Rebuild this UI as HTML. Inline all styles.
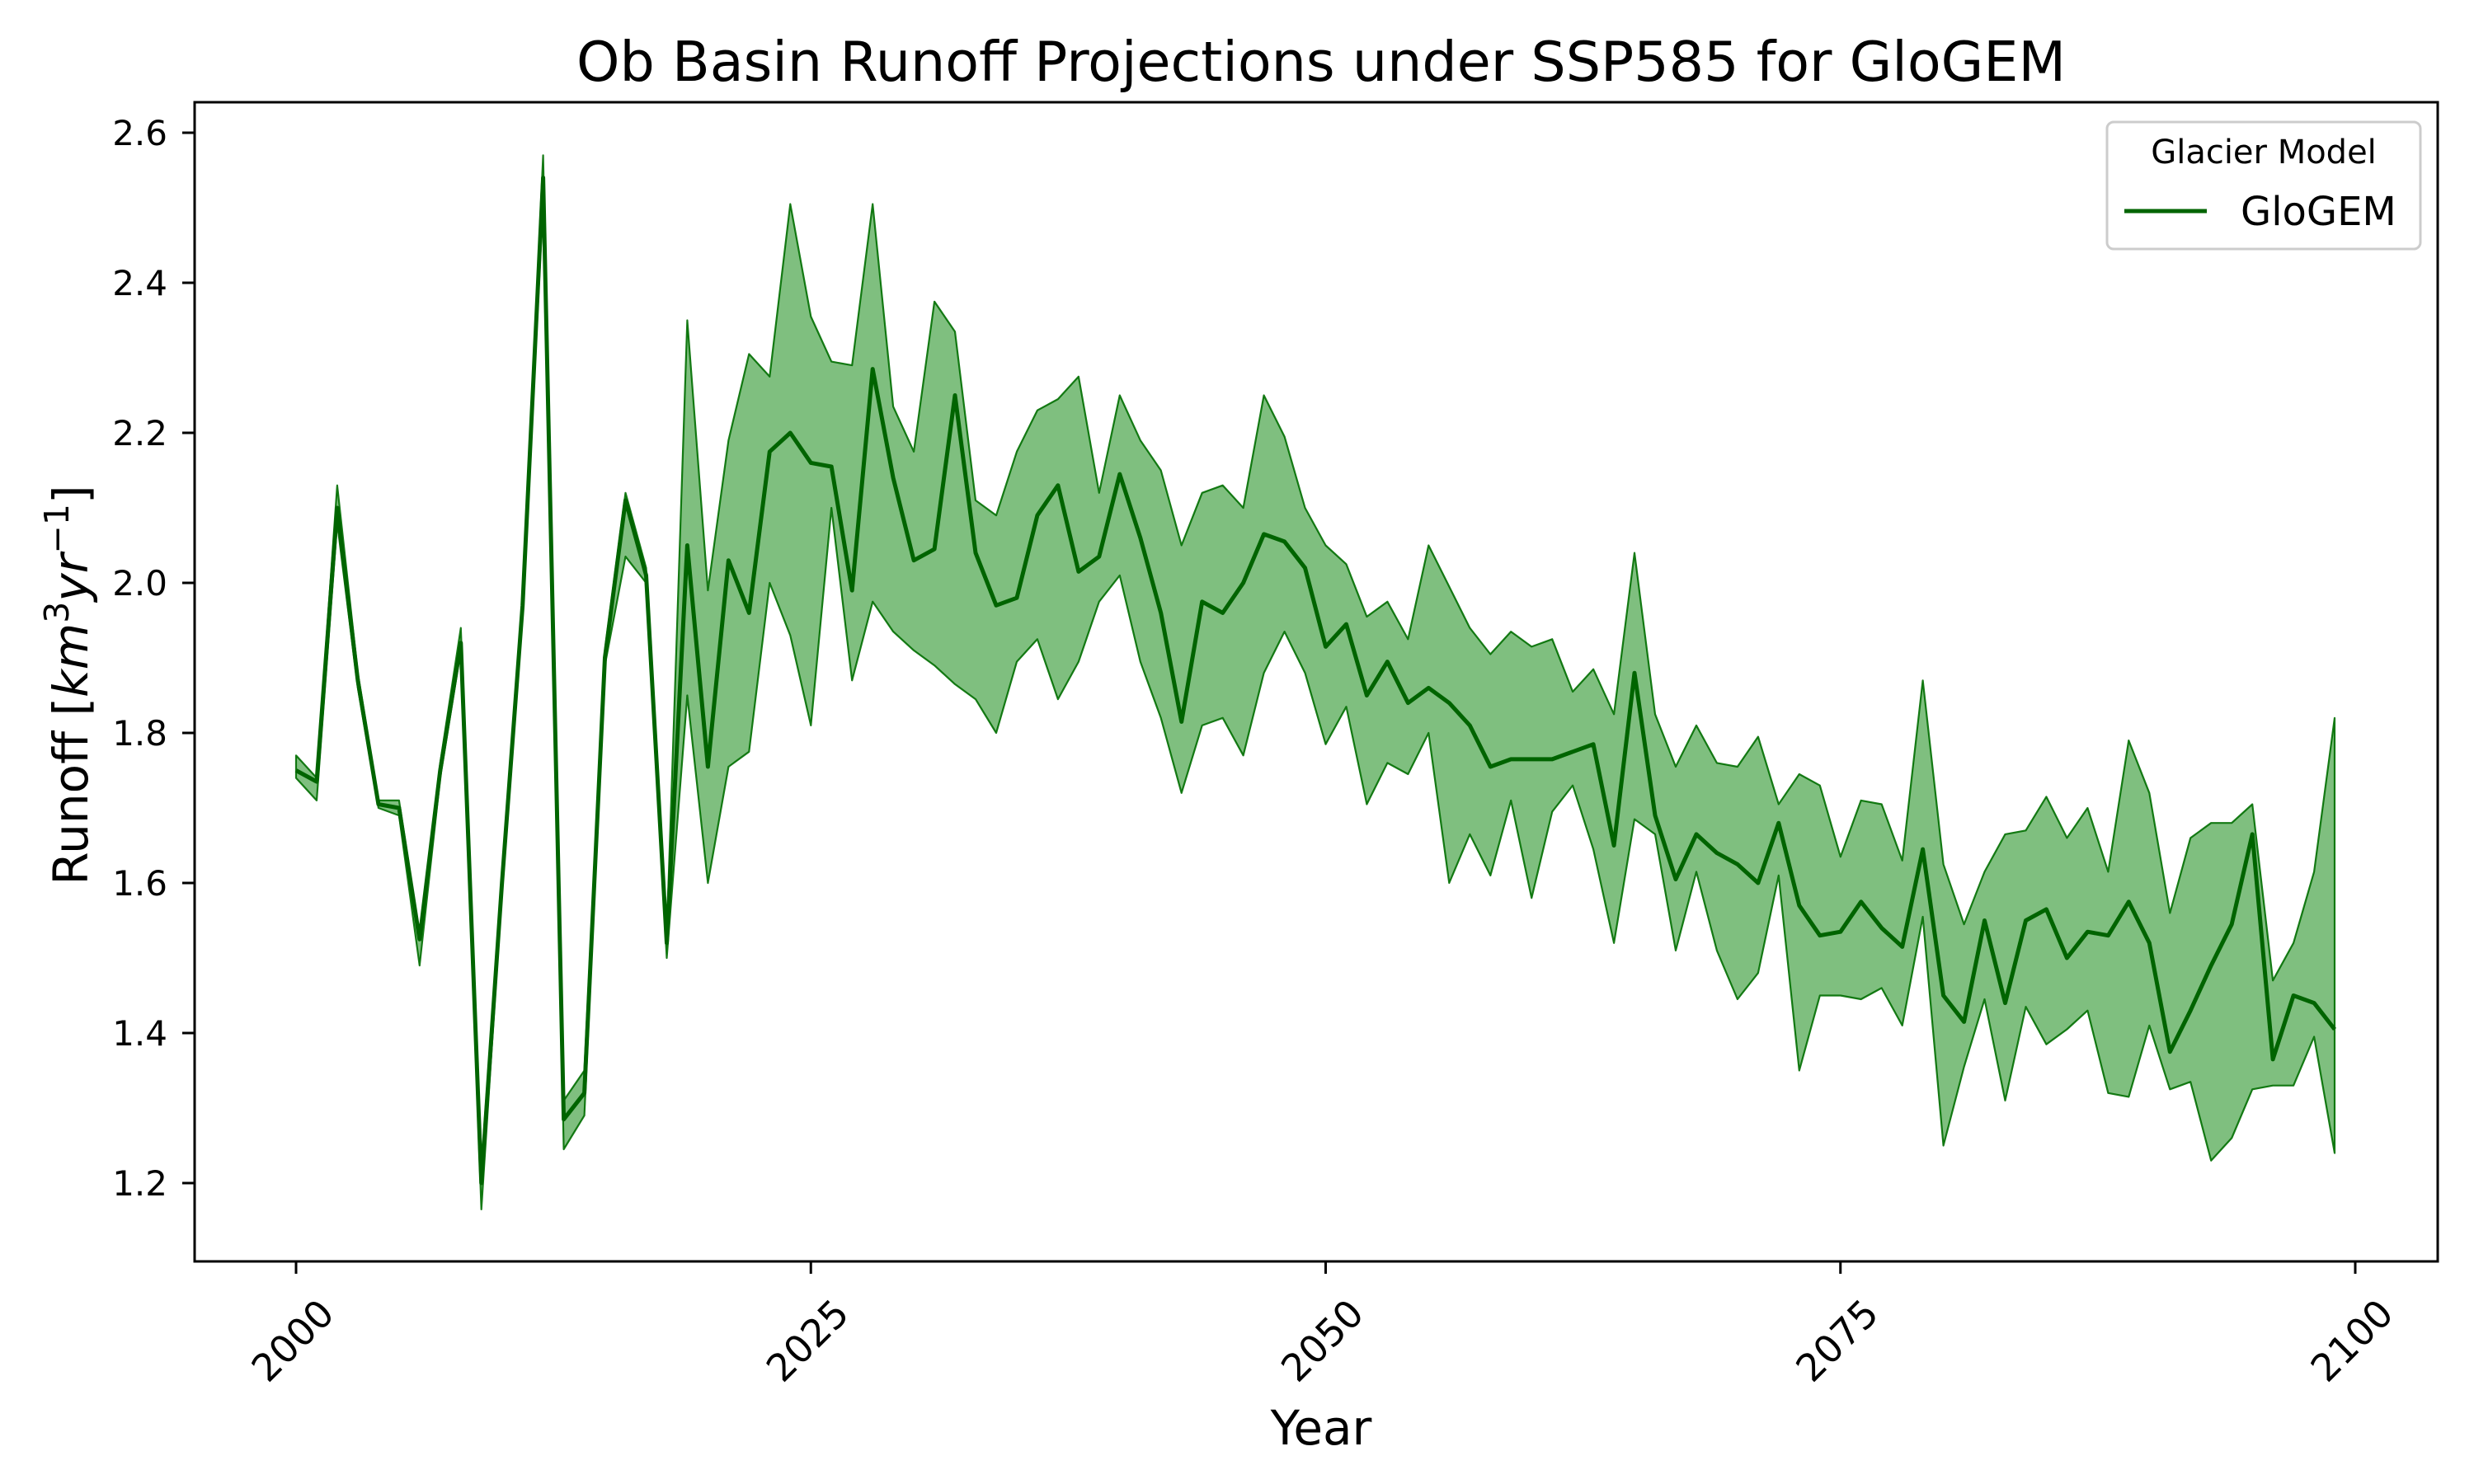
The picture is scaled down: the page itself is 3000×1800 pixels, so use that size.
<!DOCTYPE html>
<html><head><meta charset="utf-8"><style>html,body{margin:0;padding:0;background:#fff}svg{display:block}text{font-family:"DejaVu Sans","Liberation Sans",sans-serif;fill:#000}</style></head>
<body>
<svg id="chart" width="3000" height="1800" viewBox="0 0 3000 1800" xmlns="http://www.w3.org/2000/svg">
<rect width="3000" height="1800" fill="#fff"/>
<text x="1602" y="98" font-size="66.7" text-anchor="middle">Ob Basin Runoff Projections under SSP585 for GloGEM</text>
<g id="plot"></g>
<rect x="236" y="124" width="2720" height="1406" fill="none" stroke="#000" stroke-width="3"/>
<g id="ticks"></g>
<text x="1602" y="1752" font-size="58" text-anchor="middle">Year</text>
<text transform="translate(106,831) rotate(-90)" font-size="58" text-anchor="middle">Runoff [<tspan font-style="italic">km</tspan><tspan font-size="41" dy="-23">3</tspan><tspan font-style="italic" dy="23">yr</tspan><tspan font-size="41" dy="-23">−1</tspan><tspan dy="23">]</tspan></text>
<g>
<rect x="2555" y="148" width="380" height="154" rx="8" fill="#fff" fill-opacity="0.8" stroke="#ccc" stroke-width="3"/>
<text x="2745" y="198" font-size="40" text-anchor="middle">Glacier Model</text>
<line x1="2576" y1="256" x2="2676" y2="256" stroke="#006400" stroke-width="5"/>
<text x="2717" y="273" font-size="48">GloGEM</text>
</g>
</svg>
<script>
const years = Array.from({length:100},(_,i)=>2000+i);
const meanVals = [1.75,1.735,2.10,1.87,1.705,1.70,1.525,1.75,1.92,1.20,1.60,1.97,2.54,1.285,1.32,1.90,2.11,2.01,1.52,2.05,1.755,2.03,1.96,2.175,2.20,2.16,2.155,1.99,2.285,2.14,2.03,2.045,2.25,2.04,1.97,1.98,2.09,2.13,2.015,2.035,2.145,2.06,1.96,1.815,1.975,1.96,2.00,2.065,2.055,2.02,1.915,1.945,1.85,1.895,1.84,1.86,1.84,1.81,1.755,1.765,1.765,1.765,1.775,1.785,1.65,1.88,1.69,1.605,1.665,1.64,1.625,1.60,1.68,1.57,1.53,1.535,1.575,1.54,1.515,1.645,1.45,1.415,1.55,1.44,1.55,1.565,1.50,1.535,1.53,1.575,1.52,1.375,1.43,1.49,1.545,1.665,1.365,1.45,1.44,1.405];
const upperVals = [1.77,1.74,2.13,1.88,1.71,1.71,1.53,1.76,1.94,1.22,1.61,1.97,2.57,1.31,1.35,1.91,2.12,2.02,1.53,2.35,1.99,2.19,2.305,2.275,2.505,2.355,2.295,2.29,2.505,2.235,2.175,2.375,2.335,2.11,2.09,2.175,2.23,2.245,2.275,2.12,2.25,2.19,2.15,2.05,2.12,2.13,2.10,2.25,2.195,2.10,2.05,2.025,1.955,1.975,1.925,2.05,1.995,1.94,1.905,1.935,1.915,1.925,1.855,1.885,1.825,2.04,1.825,1.755,1.81,1.76,1.755,1.795,1.705,1.745,1.73,1.635,1.71,1.705,1.63,1.87,1.625,1.545,1.615,1.665,1.67,1.715,1.66,1.70,1.615,1.79,1.72,1.56,1.66,1.68,1.68,1.705,1.47,1.52,1.615,1.82];
const lowerVals = [1.74,1.71,2.08,1.86,1.70,1.69,1.49,1.74,1.91,1.165,1.59,1.96,2.51,1.245,1.29,1.89,2.035,2.00,1.50,1.85,1.60,1.755,1.775,2.00,1.93,1.81,2.10,1.87,1.975,1.935,1.91,1.89,1.865,1.845,1.80,1.895,1.925,1.845,1.895,1.975,2.01,1.895,1.82,1.72,1.81,1.82,1.77,1.88,1.935,1.88,1.785,1.835,1.705,1.76,1.745,1.80,1.60,1.665,1.61,1.71,1.58,1.695,1.73,1.645,1.52,1.685,1.665,1.51,1.615,1.51,1.445,1.48,1.61,1.35,1.45,1.45,1.445,1.46,1.41,1.555,1.25,1.355,1.445,1.31,1.435,1.385,1.405,1.43,1.32,1.315,1.41,1.325,1.335,1.23,1.26,1.325,1.33,1.33,1.395,1.24];
const xTicks = [2000,2025,2050,2075,2100];
const yTicks = [1.2,1.4,1.6,1.8,2.0,2.2,2.4,2.6];
const yTickLabels = ["1.2","1.4","1.6","1.8","2.0","2.2","2.4","2.6"];

const NS="http://www.w3.org/2000/svg";
function X(yr){return 359+(yr-2000)*(2856-359)/100;}
function Y(v){return 161+(2.6-v)*(182/0.2);}
const plot=document.getElementById('plot');
const ticks=document.getElementById('ticks');

let d='M'+years.map((yr,i)=>X(yr).toFixed(1)+','+Y(upperVals[i]).toFixed(1)).join('L');
for(let i=years.length-1;i>=0;i--) d+='L'+X(years[i]).toFixed(1)+','+Y(lowerVals[i]).toFixed(1);
d+='Z';
const band=document.createElementNS(NS,'path');


band.setAttribute('d',d);band.setAttribute('fill','rgba(0,128,0,0.5)');band.setAttribute('stroke','rgba(0,110,0,0.9)');band.setAttribute('stroke-width','2.2');band.setAttribute('stroke-linejoin','round');
plot.appendChild(band);

const line=document.createElementNS(NS,'polyline');


line.setAttribute('points',years.map((yr,i)=>X(yr).toFixed(1)+','+Y(meanVals[i]).toFixed(1)).join(' '));
line.setAttribute('fill','none');line.setAttribute('stroke','#006400');line.setAttribute('stroke-width','5');line.setAttribute('stroke-linejoin','round');
plot.appendChild(line);

xTicks.forEach(t=>{
  const x=X(t);
  const l=document.createElementNS(NS,'line');
  
  
  l.setAttribute('x1',x);l.setAttribute('x2',x);l.setAttribute('y1',1530);l.setAttribute('y2',1545);l.setAttribute('stroke','#000');l.setAttribute('stroke-width','3');
  ticks.appendChild(l);
  const tx=document.createElementNS(NS,'text');
  
  
  tx.setAttribute('transform','translate('+(x-4)+',1626) rotate(-45)');
  tx.setAttribute('font-size','46');tx.setAttribute('text-anchor','middle');tx.setAttribute('dominant-baseline','central');
  tx.textContent=String(t);
  ticks.appendChild(tx);
});
yTicks.forEach((v,i)=>{
  const y=Y(v);
  const l=document.createElementNS(NS,'line');
  
  
  l.setAttribute('x1',221);l.setAttribute('x2',236);l.setAttribute('y1',y);l.setAttribute('y2',y);l.setAttribute('stroke','#000');l.setAttribute('stroke-width','3');
  ticks.appendChild(l);
  const tx=document.createElementNS(NS,'text');
  
  
  tx.setAttribute('x',203);tx.setAttribute('y',y+15);tx.setAttribute('font-size','42');tx.setAttribute('text-anchor','end');
  tx.textContent=yTickLabels[i];
  ticks.appendChild(tx);
});
</script>
</body></html>
